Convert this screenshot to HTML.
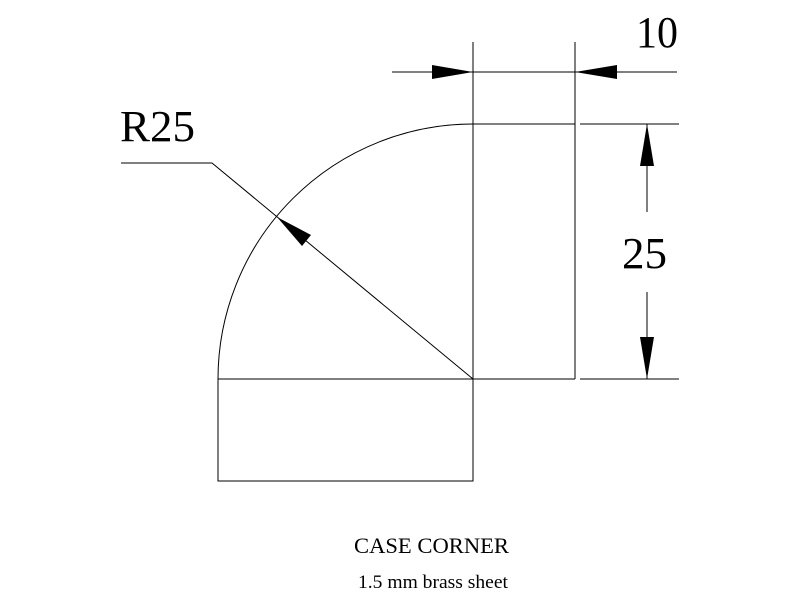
<!DOCTYPE html>
<html><head><meta charset="utf-8"><style>html,body{margin:0;padding:0;background:#fff;}svg{display:block}</style></head>
<body>
<svg width="800" height="600" viewBox="0 0 800 600" xmlns="http://www.w3.org/2000/svg">
<g stroke="#000" stroke-width="1" fill="none">
<path d="M218 379 A255 255 0 0 1 473 124"/>
<rect x="218" y="379" width="255" height="102"/>
<line x1="473" y1="124" x2="473" y2="379"/>
<line x1="575" y1="124" x2="575" y2="379"/>
<line x1="473" y1="124" x2="575" y2="124"/>
<line x1="473" y1="379" x2="575" y2="379"/>
<line x1="473" y1="42" x2="473" y2="124"/>
<line x1="575" y1="42" x2="575" y2="124"/>
<line x1="392" y1="72" x2="677" y2="72"/>
<line x1="580" y1="124" x2="679" y2="124"/>
<line x1="580" y1="379" x2="679" y2="379"/>
<line x1="647" y1="124" x2="647" y2="212"/>
<line x1="647" y1="292" x2="647" y2="379"/>
<polyline points="121,163 212,163 473,379"/>
</g>
<g fill="#000">
<polygon points="473,72 432,65 432,79"/>
<polygon points="575,72 617,65 617,79"/>
<polygon points="647,124 640,166 654,166"/>
<polygon points="647,379 640,337 654,337"/>
<polygon points="277,217 302,246 311,235"/>
</g>
<g font-family="Liberation Serif, serif" fill="#000">
<text x="636" y="47" font-size="44" textLength="42" lengthAdjust="spacingAndGlyphs">10</text>
<text x="120" y="141" font-size="44" textLength="75" lengthAdjust="spacingAndGlyphs">R25</text>
<text x="622" y="268" font-size="44" textLength="45" lengthAdjust="spacingAndGlyphs">25</text>
<text x="354" y="553" font-size="22" textLength="155" lengthAdjust="spacingAndGlyphs">CASE CORNER</text>
<text x="358" y="588" font-size="19" textLength="150" lengthAdjust="spacingAndGlyphs">1.5 mm brass sheet</text>
</g>
</svg>
</body></html>
